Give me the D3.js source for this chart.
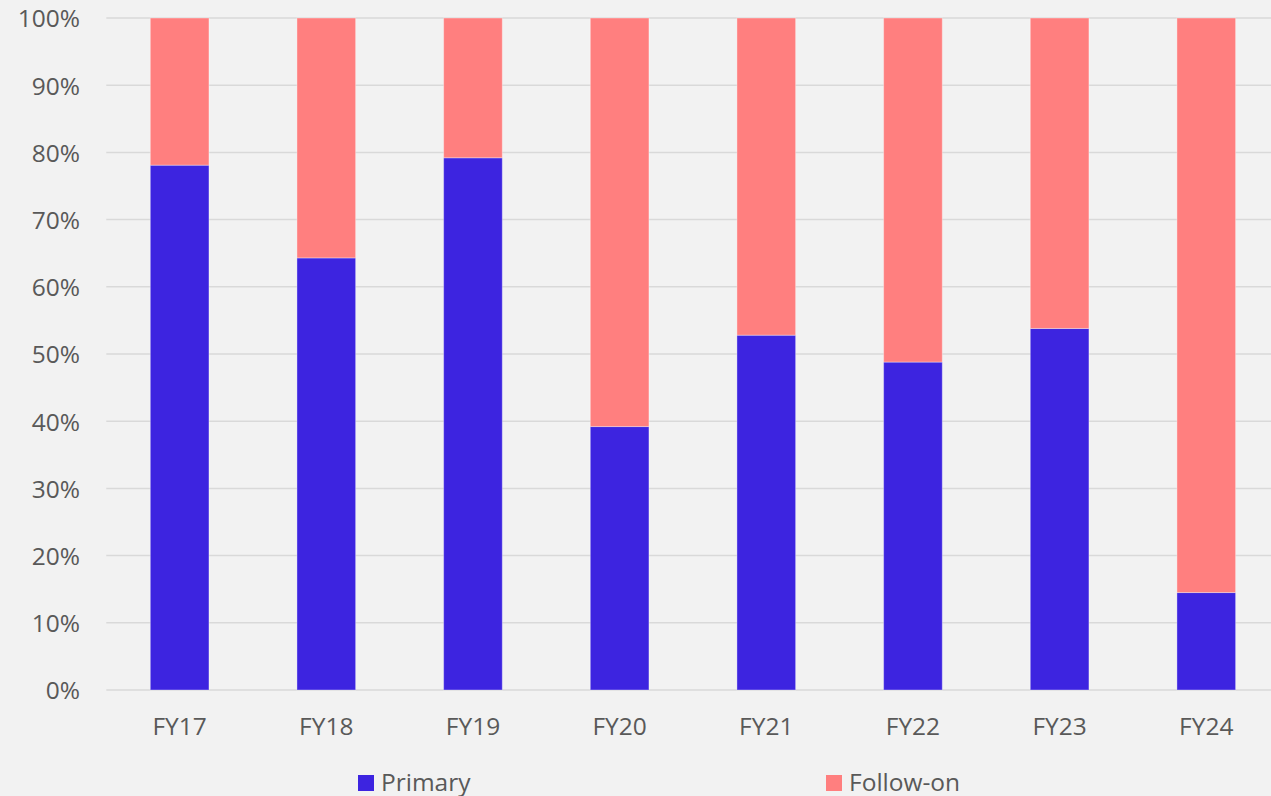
<!DOCTYPE html>
<html>
<head>
<meta charset="utf-8">
<script src="https://cdn.jsdelivr.net/npm/d3@7"></script>
<style>
  html, body { margin: 0; padding: 0; background: #f2f2f2; overflow: hidden; }
  svg { display: block; }
  text { font-family: "Open Sans", "Liberation Sans", sans-serif; fill: #595959; }
</style>
</head>
<body>
<svg id="chart" width="1271" height="796"></svg>
<script>
// Share of deal value by year, split into primary and follow-on (percent)
const categories = ["FY17", "FY18", "FY19", "FY20", "FY21", "FY22", "FY23", "FY24"];
const primary = [78.1, 64.3, 79.2, 39.2, 52.8, 48.8, 53.8, 14.5];
const followOn = [21.9, 35.7, 20.8, 60.8, 47.2, 51.2, 46.2, 85.5];
const yTicks = [0, 10, 20, 30, 40, 50, 60, 70, 80, 90, 100];
const seriesNames = ["Primary", "Follow-on"];
const seriesColors = ["#3d24e0", "#ff7f7f"];

(function () {
  const svg = d3.select("#chart");
  const W = 1271, H = 796;
  svg.append("rect").attr("width", W).attr("height", H).attr("fill", "#f2f2f2");

  const plotLeft = 106.3, plotRight = 1279.6, plotTop = 18, plotBottom = 690;

  const x = d3.scaleBand().domain(categories).range([plotLeft, plotRight])
    .paddingInner(0.6).paddingOuter(0.3);
  const y = d3.scaleLinear().domain([0, 100]).range([plotBottom, plotTop]);

  // Horizontal gridlines
  svg.append("g").selectAll("line").data(yTicks).join("line")
    .attr("x1", plotLeft).attr("x2", plotRight)
    .attr("y1", d => y(d)).attr("y2", d => y(d))
    .attr("stroke", "#d9d9d9").attr("stroke-width", 1.5);

  // Y axis labels
  const yAxis = d3.axisLeft(y).tickValues(yTicks).tickFormat(d => d + "%").tickSize(0).tickPadding(0);
  const yg = svg.append("g").attr("transform", "translate(80,0)").call(yAxis);
  yg.select(".domain").remove();
  yg.selectAll("text").attr("font-size", "24.5px").attr("fill", "#595959")
    .attr("font-family", "'Open Sans', sans-serif").attr("dy", "0.36em");

  // Stacked bars
  const rows = categories.map((c, i) => ({ cat: c, Primary: primary[i], "Follow-on": followOn[i] }));
  const stacked = d3.stack().keys(seriesNames)(rows);
  svg.append("g").selectAll("g").data(stacked).join("g")
    .attr("fill", (d, i) => seriesColors[i])
    .selectAll("rect").data(d => d).join("rect")
    .attr("x", d => x(d.data.cat))
    .attr("width", x.bandwidth())
    .attr("y", d => y(d[1]))
    .attr("height", d => y(d[0]) - y(d[1]))
    .attr("stroke", "#ffffff").attr("stroke-opacity", 0.35).attr("stroke-width", 1);

  // Category labels
  const xAxis = d3.axisBottom(x).tickSize(0).tickPadding(0);
  const xg = svg.append("g").attr("transform", "translate(0,735)").call(xAxis);
  xg.select(".domain").remove();
  xg.selectAll("text").attr("font-size", "24.5px").attr("fill", "#595959")
    .attr("font-family", "'Open Sans', sans-serif").attr("dy", 0);

  // Legend
  const legendX = [358, 826];
  const lg = svg.append("g").selectAll("g").data(seriesNames).join("g")
    .attr("transform", (d, i) => `translate(${legendX[i]},0)`);
  lg.append("rect").attr("x", 0).attr("y", 775).attr("width", 16).attr("height", 16)
    .attr("fill", (d, i) => seriesColors[i]);
  lg.append("text").attr("x", 23).attr("y", 791).attr("font-size", "24.5px")
    .text(d => d);
})();
</script>
</body>
</html>
